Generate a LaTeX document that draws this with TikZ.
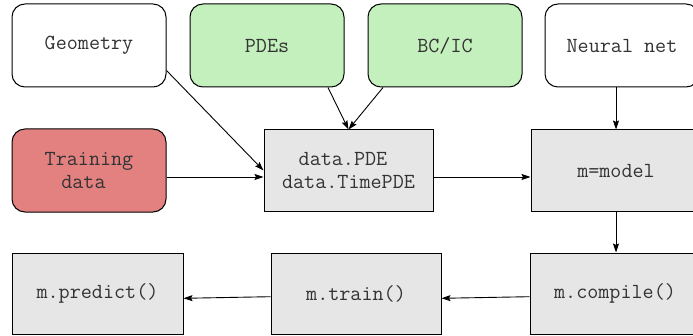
\documentclass[tikz,border=0pt]{standalone}
\usetikzlibrary{arrows.meta}
\definecolor{greenfill}{RGB}{195,240,188}
\definecolor{redfill}{RGB}{227,129,129}
\definecolor{greyfill}{RGB}{230,230,230}
\tikzset{
  base/.style={draw=black, line width=1pt, inner sep=0pt, align=center,
    font=\ttfamily\fontsize{21.5}{23}\selectfont, text=black!80},
  roundbox/.style={base, rounded corners=13pt, minimum width=154pt, minimum height=83pt},
  sqbox/.style={base, fill=greyfill, minimum width=170pt, minimum height=81pt},
  conn/.style={line width=0.9pt, -{Stealth[length=9pt,width=6pt,inset=1.5pt]}}
}
\begin{document}
\begin{tikzpicture}[x=1pt,y=1pt]
\useasboundingbox (0,0) rectangle (693,335);
\node[roundbox, fill=white] (geom) at (89,289.5) {Geometry};
\node[roundbox, fill=greenfill] (pdes) at (267,289.5) {PDEs};
\node[roundbox, fill=greenfill] (bcic) at (445,289.5) {BC/IC};
\node[roundbox, fill=white] (nn) at (622,289.5) {Neural net};
\node[roundbox, fill=redfill] (train) at (89,164.5) {Training\\data\phantom{a}};
\node[sqbox, minimum width=169pt] (data) at (348.5,164.5) {data.PDE\phantom{a}\\data.TimePDE};
\node[sqbox] (model) at (616,164.5) {m=model};
\node[sqbox, minimum width=171pt] (predict) at (97.5,41.5) {m.predict()};
\node[sqbox] (trainm) at (356,41.5) {m.train()};
\node[sqbox] (compile) at (615,41.5) {m.compile()};
\draw[conn] ([yshift=-25pt]geom.east) -- (data.west);
\draw[conn] ([yshift=-6.5pt]train.east) -- ([yshift=-6.5pt]data.west);
\draw[conn] ([xshift=61pt]pdes.south) -- (data.north);
\draw[conn] ([xshift=-62pt]bcic.south) -- (data.north);
\draw[conn] ([yshift=-6.5pt]data.east) -- ([yshift=-6.5pt]model.west);
\draw[conn] ([xshift=-6pt]nn.south) -- (model.north);
\draw[conn] (model.south) -- (model.south |- compile.north);
\draw[conn] ([yshift=-3.2pt]compile.west) -- ([yshift=-4.8pt]trainm.east);
\draw[conn] ([yshift=-3.2pt]trainm.west) -- ([yshift=-4.8pt]predict.east);
\end{tikzpicture}
\end{document}
